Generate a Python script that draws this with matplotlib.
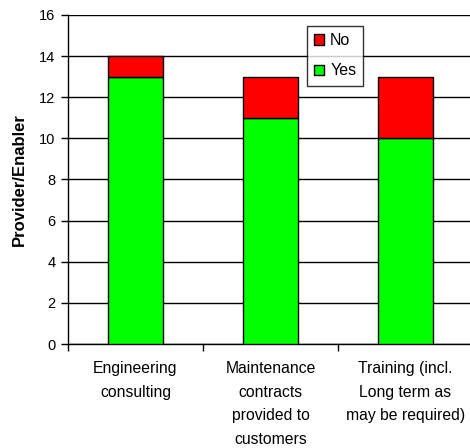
import matplotlib
matplotlib.use("Agg")
import matplotlib.pyplot as plt
import numpy as np

plt.rcParams['font.family'] = ['Liberation Sans', 'DejaVu Sans']

categories = ["Engineering\nconsulting",
              "Maintenance\ncontracts\nprovided to\ncustomers",
              "Training (incl.\nLong term as\nmay be required)"]
yes_vals = [13, 11, 10]
no_vals = [1, 2, 3]

fig = plt.figure(figsize=(4.7, 4.48), dpi=100)
ax = fig.add_axes([68 / 470, 1 - 344 / 448, 405 / 470, 329 / 448])

x = np.arange(len(categories))
b1 = ax.bar(x, yes_vals, width=0.41, color="#00ff00", edgecolor="black", linewidth=1, label="Yes", zorder=3)
b2 = ax.bar(x, no_vals, width=0.41, bottom=yes_vals, color="#ff0000", edgecolor="black", linewidth=1, label="No", zorder=3)

ax.set_xlim(-0.5, 2.5)
ax.set_ylim(0, 16)
ax.set_yticks(range(0, 17, 2))
ax.yaxis.grid(True, color="black", linewidth=1)
ax.set_axisbelow(True)

ax.set_xticks([-0.5, 0.5, 1.5, 2.5])
ax.set_xticklabels([])
ax.tick_params(axis="x", length=5, width=1, direction="out")
ax.tick_params(axis="y", length=5, width=1, direction="out", labelsize=10.5, pad=4)
for i, c in enumerate(categories):
    ax.text(i, -0.85, c, ha="center", va="top", fontsize=11.3, linespacing=1.7)

for s in ["top", "right"]:
    ax.spines[s].set_visible(False)
ax.spines["left"].set_linewidth(1)
ax.spines["bottom"].set_linewidth(1)

ax.set_ylabel("Provider/Enabler", fontsize=12, fontweight="bold", labelpad=9)

leg = ax.legend([b2, b1], ["No", "Yes"], loc="upper left", bbox_to_anchor=((307 - 68) / 405, (344 - 26) / 329),
                borderaxespad=0, frameon=True, fancybox=False, edgecolor="black", fontsize=11.5,
                handlelength=0.6, handleheight=0.6, handletextpad=0.4, borderpad=0.45, labelspacing=0.95)
leg.get_frame().set_linewidth(1)

fig.savefig("out.png", dpi=100)
